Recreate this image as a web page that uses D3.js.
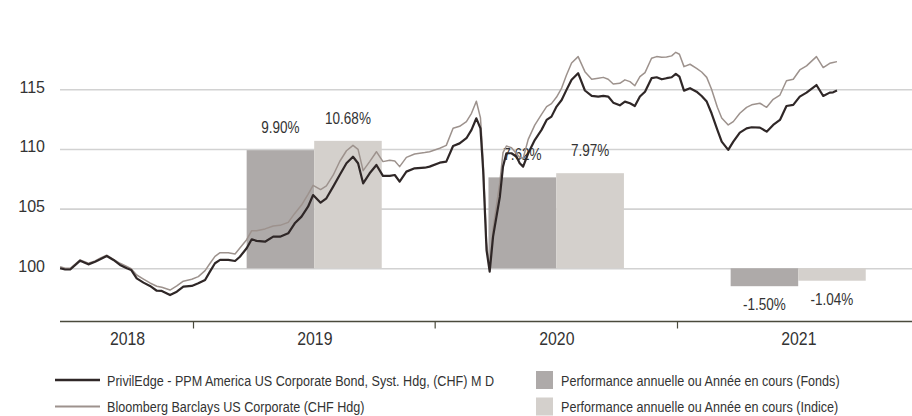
<!DOCTYPE html>
<html><head><meta charset="utf-8">
<script src="https://cdn.jsdelivr.net/npm/d3@7"></script>
<style>
body{margin:0;background:#fff;}
svg{display:block;}
text{font-family:"Liberation Sans",Arial,sans-serif;}
</style></head><body>
<svg id="chart" width="912" height="416"></svg>
<script>
// decimal-year time stamps (weekly-ish sampling)
const times = [2018.450,2018.471,2018.492,2018.533,2018.567,2018.595,2018.616,2018.643,2018.671,2018.698,2018.726,2018.744,2018.767,2018.795,2018.822,2018.850,2018.871,2018.905,2018.933,2018.960,2018.995,
2019.022,2019.050,2019.070,2019.091,2019.112,2019.146,2019.174,2019.194,2019.222,2019.243,2019.263,2019.298,2019.332,2019.360,2019.394,2019.421,2019.449,2019.476,2019.497,2019.528,2019.552,2019.580,2019.607,2019.635,2019.662,2019.683,2019.704,2019.731,2019.759,2019.786,2019.814,2019.835,2019.855,2019.883,2019.917,2019.959,2019.979,
2020.021,2020.048,2020.076,2020.103,2020.131,2020.152,2020.172,2020.189,2020.200,2020.214,2020.227,2020.241,2020.269,2020.282,2020.296,2020.317,2020.338,2020.351,2020.365,2020.386,2020.413,2020.441,2020.462,2020.482,2020.503,2020.524,2020.544,2020.565,2020.592,2020.620,2020.648,2020.675,2020.696,2020.716,2020.737,2020.764,2020.785,2020.806,2020.826,2020.847,2020.868,2020.895,2020.916,2020.937,2020.957,2020.978,2020.995,
2021.010,2021.029,2021.054,2021.081,2021.102,2021.123,2021.143,2021.167,2021.185,2021.212,2021.233,2021.260,2021.288,2021.309,2021.343,2021.371,2021.398,2021.426,2021.453,2021.481,2021.508,2021.536,2021.577,2021.605,2021.632,2021.646,2021.662];

const fundValues = [100.0,99.9,99.9,100.64,100.33,100.55,100.75,101.03,100.70,100.28,100.0,99.86,99.16,98.8,98.52,98.12,98.1,97.76,98.04,98.46,98.52,
98.74,99.02,99.72,100.42,100.7,100.7,100.61,100.97,101.68,102.43,102.3,102.23,102.65,102.65,102.93,103.77,104.33,105.16,106.14,105.5,105.87,106.84,107.82,108.8,109.35,108.8,107.12,107.96,108.66,107.74,107.74,107.82,107.26,108.1,108.38,108.43,108.52,
108.85,108.94,110.25,110.47,110.9,111.6,112.57,111.73,108.24,101.53,99.72,102.65,106.0,108.52,109.64,109.64,109.35,108.8,108.52,109.64,110.75,111.6,112.43,112.71,113.55,114.1,114.95,115.8,116.35,114.9,114.45,114.39,114.45,114.39,113.88,113.66,113.97,113.83,113.6,114.39,114.8,115.93,116.01,115.84,115.93,116.01,116.29,
116.06,114.89,115.09,114.8,114.44,113.97,112.99,111.6,110.61,109.92,110.61,111.37,111.73,111.82,111.79,111.45,112.01,112.43,113.6,113.69,114.39,114.72,115.36,114.44,114.72,114.75,114.89];

const indexValues = [100.13,100.0,100.0,100.7,100.42,100.62,100.84,101.11,100.75,100.42,100.15,99.96,99.44,99.1,98.77,98.5,98.41,98.18,98.52,98.92,99.08,
99.3,99.8,100.4,101.0,101.31,101.31,101.2,101.7,102.4,103.15,103.15,103.3,103.55,103.6,103.85,104.6,105.3,106.2,106.95,106.6,106.9,107.8,108.95,109.85,110.3,109.97,108.18,108.94,109.77,108.94,109.05,109.0,108.52,109.3,109.58,109.7,109.77,
110.06,110.3,111.73,111.9,112.29,112.99,114.0,112.6,109.0,102.2,100.0,103.3,107.2,109.7,110.25,110.1,109.6,109.3,109.2,110.8,112.0,112.9,113.55,113.8,114.35,115.1,116.2,117.2,117.74,116.48,115.84,115.93,116.0,115.84,115.45,115.5,115.79,115.64,115.3,116.06,116.4,117.6,117.74,117.68,117.7,117.8,118.1,
117.94,116.9,117.1,116.76,116.45,116.0,115.0,113.5,112.6,112.01,112.29,112.99,113.49,113.7,113.83,113.49,114.16,114.52,115.72,115.84,116.62,116.96,117.74,116.82,117.18,117.25,117.32];

const perfYears = [2019, 2020, 2021];
const fundPerf = [9.90, 7.62, -1.50];
const indexPerf = [10.68, 7.97, -1.04];
const yTicks = [100, 105, 110, 115];
const yearLabels = ["2018", "2019", "2020", "2021"];
const legendLines = ["PrivilEdge - PPM America US Corporate Bond, Syst. Hdg, (CHF) M D", "Bloomberg Barclays US Corporate (CHF Hdg)"];
const legendBars = ["Performance annuelle ou Année en cours (Fonds)", "Performance annuelle ou Année en cours (Indice)"];

const C = {fund:"#2f2727", index:"#9d928d", barF:"#aeaaa9", barI:"#d4d0cc", grid:"#d2d2d2", axis:"#4a4a3c", text:"#333"};

function toDate(t){const y=Math.floor(t);const a=Date.UTC(y,0,1),b=Date.UTC(y+1,0,1);return new Date(a+(t-y)*(b-a));}
// condensed text: regular face squeezed horizontally
function narrowText(sel, x, y, s, size, str, anchor){
  return sel.append("text").attr("transform", `translate(${x},${y}) scale(${s},1)`)
    .attr("text-anchor", anchor || "start").attr("fill", C.text).style("font-size", size + "px").text(str);
}

const svg = d3.select("#chart");
const x = d3.scaleUtc().domain([toDate(2019), toDate(2021)]).range([193, 677]);
const y = d3.scaleLinear().domain([100, 115]).range([268.3, 89.3]);
const xLeft = 60, xRight = 912, axisY = 321.5;

// gridlines
const gAxisY = svg.append("g").attr("transform", `translate(${xLeft},0)`)
  .call(d3.axisLeft(y).tickValues(yTicks).tickSize(-(xRight - xLeft)).tickFormat(d3.format("d")));
gAxisY.select(".domain").remove();
gAxisY.selectAll(".tick line").attr("stroke", C.grid).attr("stroke-width", 1.6);
gAxisY.selectAll(".tick text").attr("x", -15).attr("dy", "0.18em")
  .attr("fill", C.text).style("font-family", "'Liberation Sans',Arial,sans-serif").style("font-size", "16px");

// bars
perfYears.forEach((yr, i) => {
  const band = d3.scaleBand().domain(["F", "I"]).range([x(toDate(yr + 0.222)), x(toDate(yr + 0.781))]).padding(0);
  [["F", fundPerf[i], C.barF], ["I", indexPerf[i], C.barI]].forEach(([k, v, col]) => {
    svg.append("rect").attr("x", band(k)).attr("width", band.bandwidth())
      .attr("y", Math.min(y(100), y(100 + v))).attr("height", Math.abs(y(100 + v) - y(100)))
      .attr("fill", col);
    narrowText(svg, band(k) + band.bandwidth() / 2, v >= 0 ? y(100 + v) - 17 : y(100 + v) + 24,
      0.82, 16.5, v.toFixed(2) + "%", "middle");
  });
});

// lines
const dates = times.map(toDate);
const line = d3.line().x((d, i) => x(dates[i])).y(d => y(d));
svg.append("path").datum(indexValues).attr("d", line).attr("fill", "none").attr("stroke", C.index).attr("stroke-width", 1.5).attr("stroke-linejoin", "round");
svg.append("path").datum(fundValues).attr("d", line).attr("fill", "none").attr("stroke", C.fund).attr("stroke-width", 2.2).attr("stroke-linejoin", "round");

// x axis
svg.append("line").attr("x1", xLeft).attr("x2", xRight).attr("y1", axisY).attr("y2", axisY).attr("stroke", C.axis).attr("stroke-width", 1.3);
const gx = svg.append("g").attr("transform", `translate(0,${axisY})`)
  .call(d3.axisBottom(x).tickValues([2019, 2020, 2021].map(toDate)).tickSize(7).tickFormat(""));
gx.select(".domain").remove();
gx.selectAll(".tick line").attr("stroke", C.axis).attr("stroke-width", 1.2);
yearLabels.forEach((lab, i) => {
  const yr = +lab;
  const a = Math.max(xLeft, x(toDate(yr))), b = Math.min(xRight + 7, x(toDate(yr + 1)));
  narrowText(svg, (a + b) / 2 + 1, 345, 0.88, 18, lab, "middle");
});

// legend
const legY = [380, 406.5];
legendLines.forEach((t, i) => {
  svg.append("line").attr("x1", 55).attr("x2", 100).attr("y1", legY[i]).attr("y2", legY[i])
    .attr("stroke", i === 0 ? C.fund : C.index).attr("stroke-width", i === 0 ? 2.6 : 2);
  narrowText(svg, 107, legY[i] + 5.5, 0.84, 15, t);
});
legendBars.forEach((t, i) => {
  svg.append("rect").attr("x", 536).attr("y", legY[i] - 9).attr("width", 17).attr("height", 18)
    .attr("fill", i === 0 ? C.barF : C.barI);
  narrowText(svg, 561, legY[i] + 5.5, 0.84, 15, t);
});
</script></body></html>
